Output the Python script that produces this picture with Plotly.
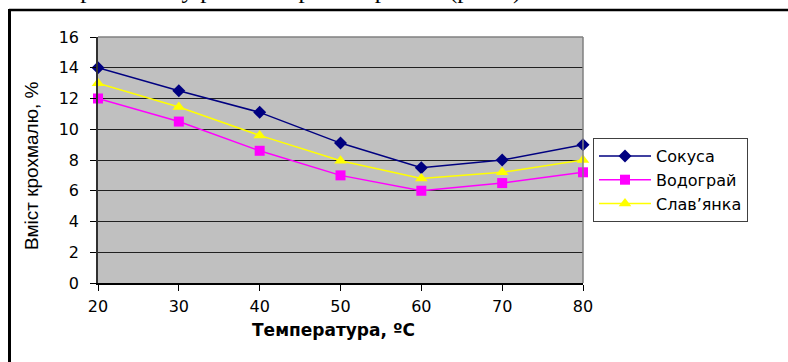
import plotly.graph_objects as go

# Starch content of potato varieties vs. temperature
temperature = [20, 30, 40, 50, 60, 70, 80]
sokusa = [14.0, 12.5, 11.1, 9.1, 7.5, 8.0, 9.0]
vodohrai = [12.0, 10.5, 8.6, 7.0, 6.0, 6.5, 7.2]
slavianka = [13.0, 11.45, 9.6, 7.95, 6.8, 7.2, 8.0]
y_ticks = [0, 2, 4, 6, 8, 10, 12, 14, 16]
x_ticks = [20, 30, 40, 50, 60, 70, 80]

W, H = 788, 362
L, R, T, B = 98, 583, 37, 283  # plot area in pixels


def px_x(p):
    return (p - L) / (R - L)


def px_y(p):
    return (B - p) / (B - T)


fig = go.Figure()
fig.add_trace(go.Scatter(
    x=temperature, y=sokusa, name="Сокуса", mode="lines+markers",
    line=dict(color="#000080", width=1.5),
    marker=dict(symbol="diamond", size=10, color="#000080"),
    cliponaxis=False,
))
fig.add_trace(go.Scatter(
    x=temperature, y=vodohrai, name="Водограй", mode="lines+markers",
    line=dict(color="#FF00FF", width=1.5),
    marker=dict(symbol="square", size=10, color="#FF00FF"),
    cliponaxis=False,
))
fig.add_trace(go.Scatter(
    x=temperature, y=slavianka, name="Слав’янка", mode="lines+markers",
    line=dict(color="#FFFF00", width=1.5),
    marker=dict(symbol="triangle-up", size=11, color="#FFFF00"),
    cliponaxis=False,
))

fig.update_layout(
    width=W, height=H,
    margin=dict(l=L, r=W - R, t=T, b=H - B),
    paper_bgcolor="white",
    plot_bgcolor="#C0C0C0",
    font=dict(family="DejaVu Sans", size=15, color="black"),
    showlegend=True,
    legend=dict(
        x=px_x(593), y=px_y(138), xanchor="left", yanchor="top",
        bgcolor="white", bordercolor="#404040", borderwidth=1,
        font=dict(family="DejaVu Sans", size=16, color="black"),
        itemwidth=52, tracegroupgap=0,
    ),
    xaxis=dict(
        range=[20, 80], tickvals=x_ticks, ticktext=[str(v) for v in x_ticks],
        showgrid=False, zeroline=False,
        showline=True, linecolor="black", linewidth=1.5,
        ticks="outside", ticklen=6, tickcolor="black",
        tickfont=dict(family="DejaVu Sans", size=16),
        ticklabelstandoff=2,
    ),
    yaxis=dict(
        range=[0, 16], tickvals=y_ticks, ticktext=[str(v) for v in y_ticks],
        showgrid=True, gridcolor="#202020", gridwidth=1,
        zeroline=False,
        showline=True, linecolor="#303030", linewidth=1.5,
        ticks="outside", ticklen=6, tickcolor="black",
        tickfont=dict(family="DejaVu Sans", size=16),
        ticklabelstandoff=8,
    ),
    annotations=[
        dict(text="Вміст крохмалю, %", textangle=-90,
             x=px_x(31), y=px_y(166), xref="paper", yref="paper",
             xanchor="center", yanchor="middle", showarrow=False,
             font=dict(family="Liberation Sans", size=19, color="black")),
        dict(text="<b>Температура, ºC</b>",
             x=px_x(333), y=px_y(330), xref="paper", yref="paper",
             xanchor="center", yanchor="middle", showarrow=False,
             font=dict(family="DejaVu Sans", size=17, color="black")),
        dict(text="крохмалю у різних сортах картоплі (рис.3).",
             x=px_x(530), y=px_y(6), xref="paper", yref="paper",
             xanchor="right", yanchor="bottom", showarrow=False,
             font=dict(family="Liberation Serif", size=25, color="black")),
    ],
    shapes=[
        # top and right border of plot area
        dict(type="line", xref="paper", yref="paper", x0=0, x1=1, y0=1, y1=1,
             line=dict(color="#808080", width=1.5)),
        dict(type="line", xref="paper", yref="paper", x0=1, x1=1, y0=0, y1=1,
             line=dict(color="#808080", width=1.5)),
        # page frame around the chart
        dict(type="line", xref="paper", yref="paper",
             x0=px_x(9), x1=px_x(800), y0=px_y(10), y1=px_y(10),
             line=dict(color="black", width=2.5)),
        dict(type="line", xref="paper", yref="paper",
             x0=px_x(9.5), x1=px_x(9.5), y0=px_y(9), y1=px_y(380),
             line=dict(color="black", width=3)),
    ],
)

fig.write_html("out.html")
